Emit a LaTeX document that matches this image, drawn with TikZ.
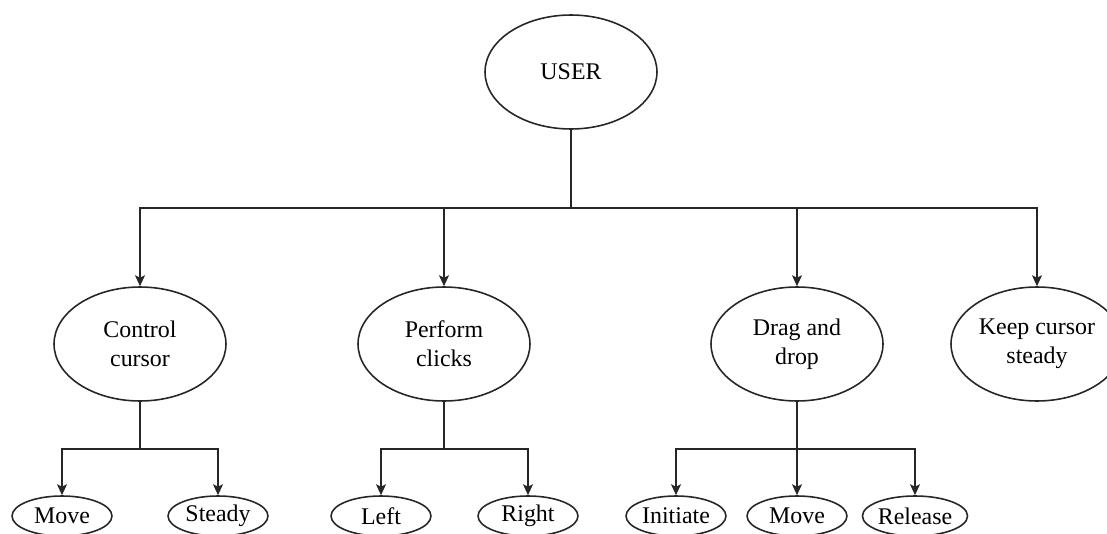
\documentclass[tikz,border=0pt]{standalone}
\usepackage{fontspec}
\setmainfont{Liberation Serif}
\usetikzlibrary{arrows.meta, shapes.geometric, positioning}

\begin{document}
\begin{tikzpicture}[x=0.02cm, y=-0.02cm,
  task/.style={draw=black!85, line width=0.9pt, ellipse, inner sep=0pt, minimum width=3.44cm, minimum height=2.28cm, align=center, font=\fontsize{13.6}{16.5}\selectfont},
  leaf/.style={task, minimum width=2cm, minimum height=0.8cm},
  link/.style={draw=black!85, line width=1pt},
  flow/.style={link, -{Stealth[length=0.22cm, width=0.2cm, inset=0.05cm]}}]
  \useasboundingbox (0,0) rectangle (1107,534);
  \clip (0,0) rectangle (1107,534);
  \node[task] (user) at (571,72) {USER};
  \node[task] (ctrl) at (140,344) {Control\\cursor};
  \node[task] (click) at (444,344) {Perform\\clicks};
  \node[task] (drag) at (797,344) {Drag and\\drop};
  \node[task] (keep) at (1037,344) {Keep cursor\\steady};
  \node[leaf] (ctrlmove) at (62,516) {Move};
  \node[leaf] (ctrlsteady) at (218,516) {Steady};
  \node[leaf] (clickleft) at (381,516) {Left};
  \node[leaf] (clickright) at (528,516) {Right};
  \node[leaf] (draginit) at (676,516) {Initiate};
  \node[leaf] (dragmove) at (797,516) {Move};
  \node[leaf] (dragrelease) at (915,516) {Release};
  \coordinate (userjoin) at (571,208);
  \coordinate (ctrljoin) at (140,449);
  \coordinate (clickjoin) at (444,449);
  \coordinate (dragjoin) at (797,449);
  \draw[link] (user) -- (userjoin);
  \draw[flow] (userjoin) -| (ctrl);
  \draw[flow] (userjoin) -| (click);
  \draw[flow] (userjoin) -| (drag);
  \draw[flow] (userjoin) -| (keep);
  \draw[link] (ctrl) -- (ctrljoin);
  \draw[flow] (ctrljoin) -| (ctrlmove);
  \draw[flow] (ctrljoin) -| (ctrlsteady);
  \draw[link] (click) -- (clickjoin);
  \draw[flow] (clickjoin) -| (clickleft);
  \draw[flow] (clickjoin) -| (clickright);
  \draw[link] (drag) -- (dragjoin);
  \draw[flow] (dragjoin) -| (draginit);
  \draw[flow] (dragjoin) -- (dragmove);
  \draw[flow] (dragjoin) -| (dragrelease);
\end{tikzpicture}
\end{document}
